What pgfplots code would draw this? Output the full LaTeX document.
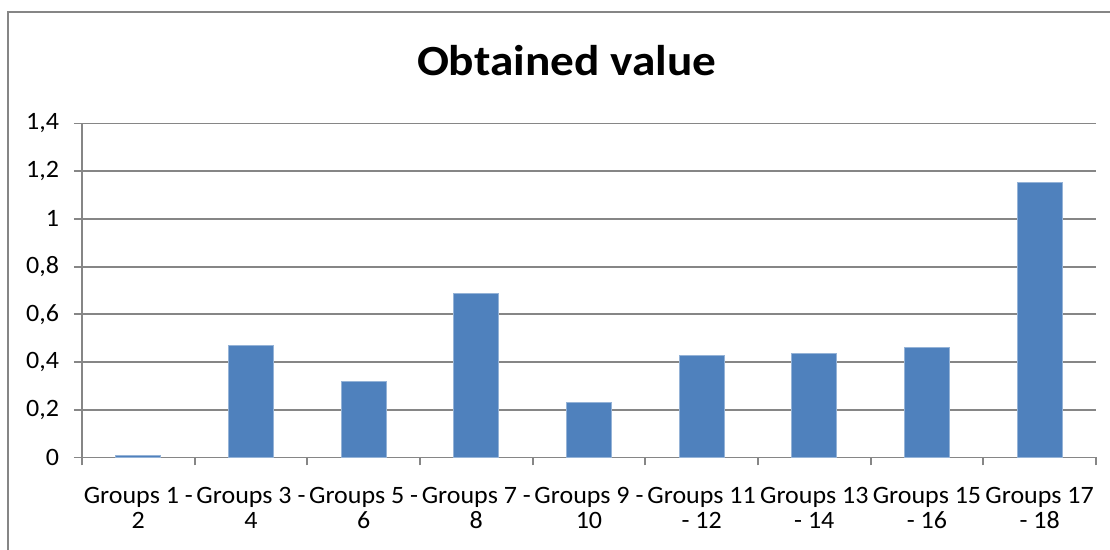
\documentclass[border=0pt]{standalone}
\usepackage{fontspec}
\setmainfont[FakeStretch=1.04]{Carlito}
\newfontfamily\titlefont[FakeStretch=1.10]{Carlito}
\usepackage{pgfplots}
\pgfplotsset{compat=1.18}
\definecolor{barblue}{HTML}{4F81BD}
\definecolor{gridgray}{HTML}{868686}
\begin{document}
\begin{tikzpicture}
\useasboundingbox (0,0) rectangle (555pt,275pt);
\draw[gridgray, line width=0.9pt] (4pt,-10pt) -- (4pt,269pt) -- (570pt,269pt);
\node[anchor=base, font=\titlefont\fontsize{21.5}{24}\selectfont\bfseries] at (283.3pt,237pt) {Obtained value};
\begin{axis}[
  at={(41pt,46.25pt)}, anchor=south west,
  scale only axis, width=507pt, height=167pt,
  xmin=-0.5, xmax=8.5, ymin=0, ymax=1.4,
  ybar, bar width=0.4,
  axis x line=bottom, axis y line=left,
  axis line style={gridgray, line width=0.9pt, -},
  every outer x axis line/.append style={-},
  every outer y axis line/.append style={-},
  tick align=outside,
  major tick length=4pt, minor tick length=4pt,
  tick style={gridgray, line width=0.9pt},
  xtick={0,...,8},
  major x tick style={draw=none},
  minor xtick={-0.5,0.5,1.5,2.5,3.5,4.5,5.5,6.5,7.5,8.5},
  ytick={0,0.2,0.4,0.6,0.8,1,1.2,1.4},
  ymajorgrids, grid style={gridgray, line width=0.9pt},
  /pgf/number format/use comma,
  /pgf/number format/fixed,
  /pgf/number format/precision=1,
  /pgf/number format/assume math mode=true,
  yticklabel style={font=\fontsize{12.5}{14}\selectfont, xshift=-4pt},
  xticklabel style={font=\fontsize{12.5}{12.5}\selectfont, align=center, yshift=-7.5pt},
  xticklabels={{Groups 1 -\\2},{Groups 3 -\\4},{Groups 5 -\\6},{Groups 7 -\\8},{Groups 9 -\\10},{Groups 11\\- 12},{Groups 13\\- 14},{Groups 15\\- 16},{Groups 17\\- 18}},
]
\addplot[fill=barblue, draw=barblue!60!white, line width=0.4pt] coordinates {
(0,0.01) (1,0.47) (2,0.32) (3,0.687) (4,0.229) (5,0.428) (6,0.437) (7,0.462) (8,1.154)
};
\end{axis}
\end{tikzpicture}
\end{document}
